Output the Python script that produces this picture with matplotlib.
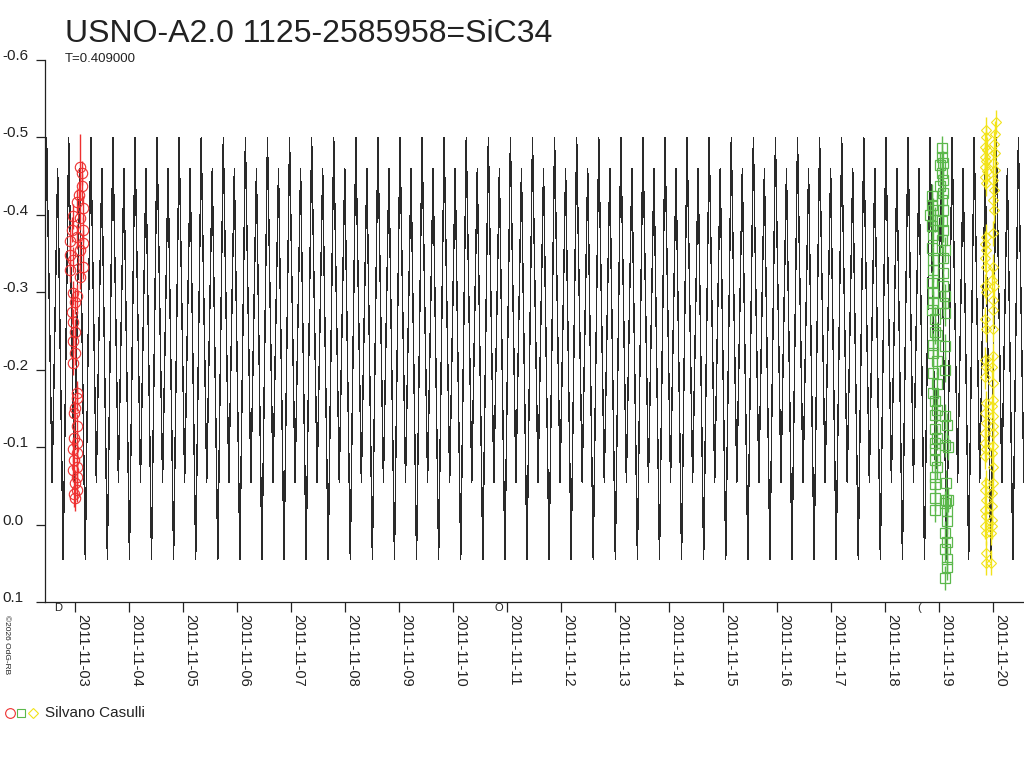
import numpy as np
import matplotlib
matplotlib.use("Agg")
from matplotlib import pyplot as plt
from matplotlib.lines import Line2D

plt.rcParams['font.family'] = ['Liberation Sans', 'DejaVu Sans']

title = "USNO-A2.0 1125-2585958=SiC34"
period = 0.409
observer = "Silvano Casulli"

# one cycle of the model light curve (phase, delta mag), phase 0 = bright maximum
epoch = 2.47
model_phase = [0.000, 0.125, 0.250, 0.375, 0.500, 0.625, 0.750, 0.875, 1.000]
model_mag = [-0.500, -0.280, -0.055, -0.260, -0.460, -0.210, 0.045, -0.230, -0.500]

# observations, day of November 2011
red_day = [3.087, 3.119, 3.119, 3.074, 3.026, 3.148, 2.963, 3.087, 2.933, 3.148,
           3.026, 2.902, 3.148, 3.087, 2.902, 2.963, 3.148, 2.902, 3.087, 2.963,
           3.026, 2.994, 2.933, 2.963, 2.994, 2.963, 2.994, 2.963, 3.026, 3.026,
           2.994, 2.976, 3.026, 2.976, 3.026, 2.963, 3.026, 2.976, 3.026, 2.963,
           3.026, 2.994, 3.026, 2.976, 2.994]
red_mag = [-0.462, -0.454, -0.437, -0.426, -0.417, -0.409, -0.398, -0.396, -0.381, -0.381,
           -0.372, -0.366, -0.364, -0.355, -0.348, -0.342, -0.333, -0.329, -0.320, -0.299,
           -0.295, -0.288, -0.275, -0.262, -0.249, -0.237, -0.222, -0.209, -0.170, -0.163,
           -0.151, -0.144, -0.127, -0.112, -0.105, -0.097, -0.092, -0.084, -0.075, -0.071,
           -0.062, -0.054, -0.045, -0.039, -0.034]

green_day = [19.044, 19.044, 19.013, 19.063, 19.044, 19.074, 19.013, 19.074, 18.859, 19.044,
             18.859, 18.889, 19.074, 18.828, 18.920, 19.044, 18.859, 19.074, 18.889, 19.044,
             18.859, 19.106, 18.889, 19.074, 18.889, 19.074, 18.859, 19.074, 18.889, 19.106,
             18.889, 19.074, 18.859, 19.106, 18.920, 18.920, 18.952, 18.889, 19.106, 18.889,
             18.952, 19.106, 18.889, 18.952, 18.889, 18.920, 18.952, 18.920, 19.106, 19.150,
             18.920, 18.952, 18.920, 19.106, 19.156, 18.920, 18.920, 18.952, 18.920, 19.124,
             18.920, 19.124, 19.167, 18.920, 19.106, 18.920, 19.137, 19.137, 19.106, 19.137,
             19.106, 19.137, 19.137, 19.106]
green_mag = [-0.486, -0.475, -0.465, -0.467, -0.454, -0.445, -0.437, -0.428, -0.424, -0.419,
             -0.413, -0.406, -0.406, -0.400, -0.394, -0.392, -0.385, -0.381, -0.374, -0.368,
             -0.357, -0.355, -0.342, -0.344, -0.329, -0.325, -0.312, -0.308, -0.301, -0.295,
             -0.286, -0.286, -0.277, -0.273, -0.265, -0.249, -0.245, -0.232, -0.230, -0.222,
             -0.211, -0.200, -0.196, -0.181, -0.170, -0.159, -0.148, -0.142, -0.140, -0.128,
             -0.123, -0.112, -0.105, -0.103, -0.100, -0.097, -0.084, -0.075, -0.062, -0.054,
             -0.052, -0.032, -0.032, -0.034, -0.028, -0.019, -0.017, -0.004, 0.011, 0.022,
             0.032, 0.045, 0.055, 0.069]

yellow_day = [19.872, 19.860, 19.850, 19.880, 19.845, 19.868, 19.855, 19.878, 19.850, 19.862,
              19.858, 19.845, 19.870, 19.852, 19.866, 19.850, 19.862, 19.845, 19.870, 19.855,
              19.868, 19.850, 19.865, 19.852, 19.870, 19.856, 19.845, 19.866, 19.852, 19.862,
              19.850, 19.868, 19.856, 19.864, 19.852, 19.870, 19.860, 19.866,
              20.046, 20.040, 20.020, 20.030, 20.005, 20.025, 20.000, 20.015, 19.995, 20.010,
              19.990, 20.000, 19.985, 20.010, 19.995, 20.005, 19.990, 20.000, 19.985, 20.005,
              19.995, 19.985, 20.000, 19.990, 20.005, 19.995, 19.985, 20.000, 19.990, 19.975,
              19.985, 19.970, 19.980, 19.965, 19.960]
yellow_mag = [-0.510, -0.500, -0.488, -0.484, -0.475, -0.469, -0.462, -0.456, -0.449, -0.441,
              -0.372, -0.363, -0.355, -0.344, -0.333, -0.308, -0.301, -0.265, -0.252, -0.213,
              -0.204, -0.191, -0.157, -0.144, -0.131, -0.118, -0.105, -0.097, -0.088, -0.054,
              -0.045, -0.032, -0.019, -0.011, 0.002, 0.011, 0.037, 0.049,
              -0.520, -0.505, -0.492, -0.480, -0.467, -0.458, -0.445, -0.432, -0.419, -0.406,
              -0.376, -0.333, -0.316, -0.308, -0.290, -0.277, -0.252, -0.218, -0.204, -0.183,
              -0.161, -0.153, -0.140, -0.127, -0.118, -0.101, -0.092, -0.075, -0.054, -0.041,
              -0.024, -0.006, 0.002, 0.011, 0.049]
mag_err = 0.016

moon_day = [2.69, 10.84, 18.63]
moon_sym = ["D", "O", "("]

y_ticks = [-0.6, -0.5, -0.4, -0.3, -0.2, -0.1, 0.0, 0.1]
y_labels = ["-0.6", "-0.5", "-0.4", "-0.3", "-0.2", "-0.1", "0.0", "0.1"]
x_ticks = list(range(3, 21))
x_labels = ["2011-11-%02d" % d for d in x_ticks]

x_min, x_max = 2.44, 20.57

# repeat the model cycle over the plotted range
model_t, model_y = [], []
for n in range(int(np.floor((x_min - epoch) / period)) - 1, int(np.ceil((x_max - epoch) / period)) + 1):
    model_t += [epoch + (n + p) * period for p in model_phase[:-1]]
    model_y += model_mag[:-1]

W, H = 1024, 768
fig = plt.figure(figsize=(W / 100, H / 100), dpi=100, facecolor="white")
ax = fig.add_axes([45 / W, 1 - 602 / H, 1 - 45 / W, (602 - 60) / H])

ax.plot(model_t, model_y, color="#2a2a2a", lw=0.3, antialiased=False, zorder=1)

red = "#ee3030"
green = "#5cb84c"
yellow = "#f2e31a"
red_err = np.full(len(red_mag), mag_err)
red_err[0] = 0.043
ax.errorbar(red_day, red_mag, yerr=red_err, fmt="o", mfc="none", mec=red, ecolor=red,
            ms=7.5, mew=0.8, elinewidth=1.0, zorder=3)
ax.errorbar(green_day, green_mag, yerr=mag_err, fmt="s", mfc="none", mec=green, ecolor=green,
            ms=6.5, mew=0.9, elinewidth=1.0, zorder=3)
ax.errorbar(yellow_day, yellow_mag, yerr=mag_err, fmt="D", mfc="none", mec=yellow, ecolor=yellow,
            ms=5.5, mew=0.8, elinewidth=1.0, zorder=3)

ax.set_xlim(x_min, x_max)
ax.set_ylim(0.1, -0.6)
for s in ["top", "right"]:
    ax.spines[s].set_visible(False)
for s in ["left", "bottom"]:
    ax.spines[s].set_color("#222222")
    ax.spines[s].set_linewidth(0.9)

ax.set_yticks(y_ticks)
ax.set_yticklabels(y_labels, fontsize=11, color="#222222", ha="left", va="baseline")
ax.tick_params(axis="y", direction="out", length=6.5, width=0.9, color="#222222", pad=24.5)
ax.set_xticks(x_ticks)
ax.set_xticklabels(x_labels, fontsize=10.5, color="#222222", rotation=270, ha="left", va="top")
ax.tick_params(axis="x", direction="out", length=7.2, width=0.9, color="#222222", pad=1.5)

for d, s in zip(moon_day, moon_sym):
    ax.text(d, -0.011, s, transform=ax.get_xaxis_transform(), fontsize=8, ha="center", va="center",
            color="#222222")

fig.text(65 / W, 1 - 42 / H, title, fontsize=23, color="#222222", va="baseline")
fig.text(65 / W, 1 - 62 / H, "T=0.409000", fontsize=9.5, color="#222222", va="baseline")
fig.text(6 / W, 1 - 615 / H, "\u00a92026 OdG-RB", fontsize=6, rotation=270, ha="center", va="top",
         color="#222222")

# legend row at the bottom
ly = 1 - 713 / H
for x, m, c, ms in [(10, "o", red, 7), (21, "s", green, 5.5), (33, "D", yellow, 5)]:
    fig.add_artist(Line2D([x / W], [ly], marker=m, mfc="none", mec=c, ms=ms, mew=0.8,
                          transform=fig.transFigure))
fig.text(45 / W, ly, observer, fontsize=11, color="#222222", va="center")

fig.savefig("out.png", dpi=100)
